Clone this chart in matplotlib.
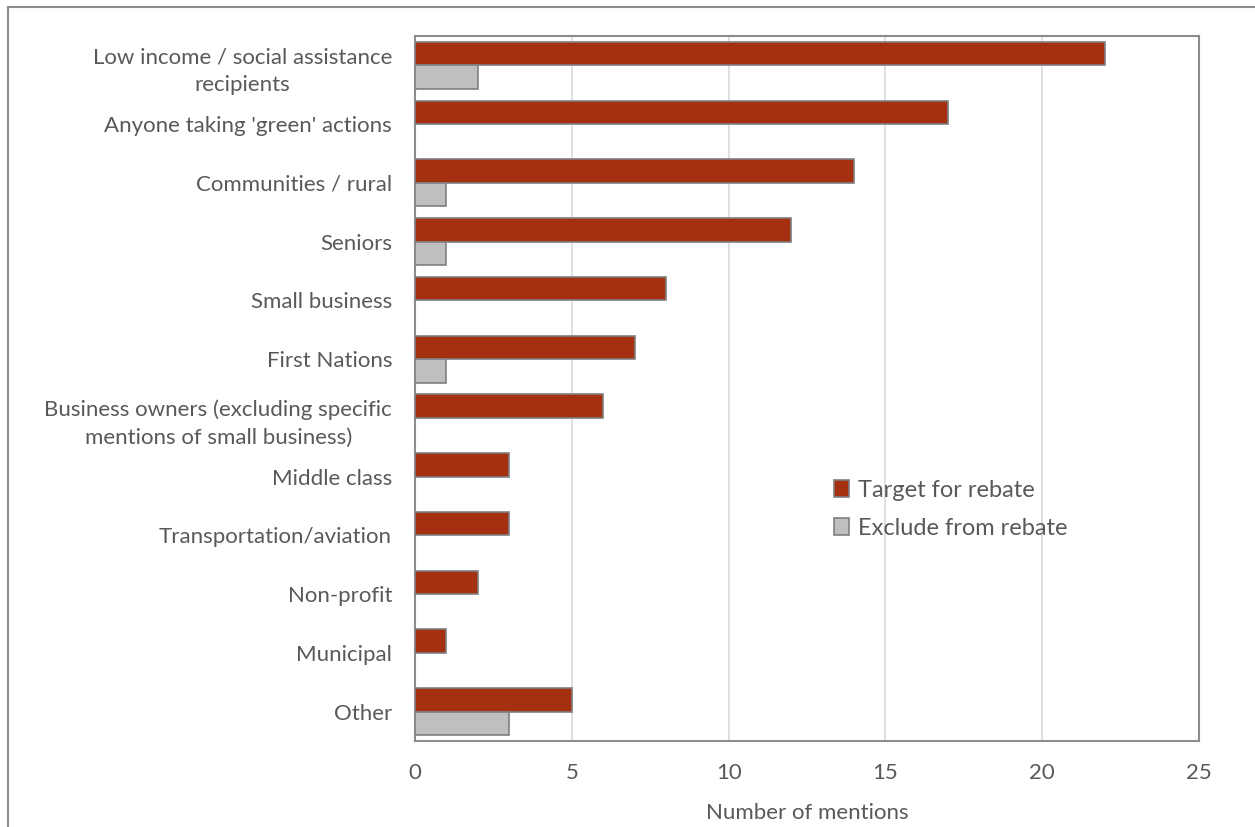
import matplotlib
matplotlib.use("Agg")
import matplotlib.pyplot as plt
from matplotlib.patches import Patch
from matplotlib.lines import Line2D
import numpy as np

categories = [
    "Low income / social assistance\nrecipients",
    "Anyone taking 'green' actions",
    "Communities / rural",
    "Seniors",
    "Small business",
    "First Nations",
    "Business owners (excluding specific\nmentions of small business)",
    "Middle class",
    "Transportation/aviation",
    "Non-profit",
    "Municipal",
    "Other",
]
target = [22, 17, 14, 12, 8, 7, 6, 3, 3, 2, 1, 5]
exclude = [2, 0, 1, 1, 0, 1, 0, 0, 0, 0, 0, 3]
xticks = [0, 5, 10, 15, 20, 25]

RED = "#A5300F"
GRAY = "#BFBFBF"
EDGE = "#7F7F7F"
TXT = "#595959"
FS = 16

plt.rcParams['font.family'] = ['Lato', 'DejaVu Sans']

fig = plt.figure(figsize=(12.55, 8.27), dpi=100)
ax = fig.add_axes([415/1255, 1-741/827, (1199-415)/1255, (741-36)/827])

y = np.arange(len(categories))
h = 0.4
ax.barh(y - h/2, target, height=h, color=RED, edgecolor=EDGE, linewidth=1.2,
        label="Target for rebate", zorder=3)
ex_vals = np.array(exclude, dtype=float)
mask = ex_vals > 0
ax.barh(y[mask] + h/2, ex_vals[mask], height=h, color=GRAY, edgecolor=EDGE,
        linewidth=1.2, label="Exclude from rebate", zorder=3)

ax.set_ylim(len(categories) - 0.5, -0.5)
ax.set_xlim(0, 25)
ax.set_xticks(xticks)
ax.set_yticks(y)
ax.set_yticklabels(categories, fontsize=FS, color=TXT, linespacing=1.45,
                   multialignment='center')
ax.tick_params(axis='x', labelsize=FS, labelcolor=TXT, length=0, pad=16)
ax.tick_params(axis='y', length=0, pad=16.5)
ax.grid(axis='x', color="#D9D9D9", linewidth=1.2, zorder=0)
ax.set_axisbelow(True)
for s in ax.spines.values():
    s.set_color("#8C8C8C")
    s.set_linewidth(1.5)
ax.set_xlabel("Number of mentions", fontsize=FS, color=TXT, labelpad=14.5)

handles = [Patch(facecolor=RED, edgecolor=EDGE, linewidth=1.2),
           Patch(facecolor=GRAY, edgecolor=EDGE, linewidth=1.2)]
leg = fig.legend(handles, ["Target for rebate", "Exclude from rebate"],
                 loc='upper left', bbox_to_anchor=(834/1255, 1-480/827),
                 frameon=False, fontsize=17, labelcolor=TXT,
                 handlelength=0.65, handleheight=0.7, handletextpad=0.35,
                 labelspacing=0.72, borderaxespad=0, borderpad=0)

fig.add_artist(Line2D([8/1255, 8/1255], [0, 1-7/827], color="#8C8C8C", linewidth=1.5))
fig.add_artist(Line2D([8/1255, 1], [1-7/827, 1-7/827], color="#8C8C8C", linewidth=1.5))

fig.savefig("out.png", dpi=100, facecolor="white")
